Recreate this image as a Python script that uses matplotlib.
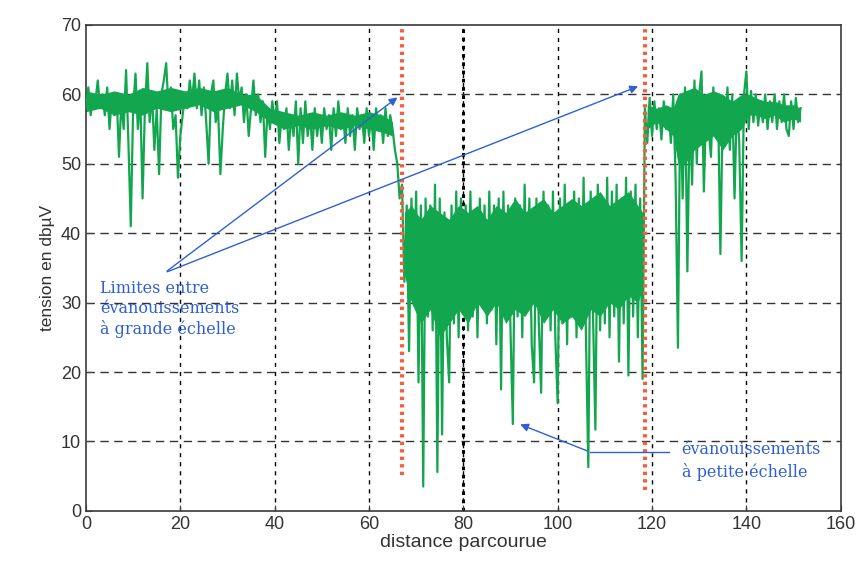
import numpy as np
import matplotlib
matplotlib.use('Agg')
import matplotlib.pyplot as plt

# Signal relevé (tension en dbµV) tous les 0.5 de distance parcourue
tension = [
    58, 61, 57, 60, 59, 62, 58, 60, 57, 61,
    55, 60, 57, 60, 51, 59, 55, 63.5, 53, 41,
    58, 63, 55, 60, 45, 58, 64.5, 56, 60, 52,
    58, 48.5, 60, 62, 64.5, 58, 61, 55, 57, 48,
    54, 57, 60, 58, 62, 59, 63, 58, 62, 57,
    61, 56, 50, 60, 62, 56, 58, 48.5, 55, 60,
    63, 58, 62, 57, 63, 59, 61, 56, 60, 54,
    58, 62, 57, 60, 56, 59, 51, 58, 55, 59,
    56, 59, 53, 57, 55, 58, 52, 57, 54, 59,
    50, 58, 53, 59, 54, 57, 52, 58, 54, 57,
    53, 58, 55, 57, 52, 58, 54, 59, 55, 57,
    53, 58, 54, 57, 52, 58, 55, 57, 53, 58,
    54, 57, 52, 58, 55, 57, 53, 58, 54, 57,
    55, 52, 50, 45, 47, 33, 44, 23, 45, 30,
    46, 18.5, 44, 3.5, 45, 28, 44, 26, 47, 5.6,
    45, 11, 43, 25, 18.5, 44, 27, 46, 25, 45,
    29, 44, 26, 46, 28, 43, 25, 45, 30, 44,
    27, 46, 29, 44, 24, 45, 17.5, 46, 28, 44,
    26, 12.5, 45, 28, 44, 25, 47, 29, 45, 24,
    18.5, 45, 27, 17, 46, 28, 44, 26, 46, 25,
    15.5, 45, 27, 47, 24, 44, 28, 46, 25, 45,
    27, 48, 25, 6.3, 46, 28, 11.7, 47, 26, 45,
    27, 48, 25, 46, 28, 47, 21.5, 45, 27, 48,
    19.5, 46, 28, 47, 25, 45, 19, 58, 53, 59.5,
    54, 59, 55, 58, 53.5, 59, 55, 58, 53, 60,
    48, 23.5, 60, 45, 61, 34.5, 58, 47, 62, 50,
    60, 63.3, 46, 59, 55, 51, 61, 54, 59, 37,
    58, 54, 61, 52, 60, 45, 59, 53, 36, 60,
    63.3, 55, 60.5, 56, 60, 55.5, 59, 56, 60, 55,
    59, 56, 60, 55, 59, 56, 60, 55, 54, 59,
    55, 59.5, 56, 58,
]
distance = np.arange(len(tension)) * 0.5

# coeur dense du bruit (enveloppe basse / haute) par tronçon
coeur1_x = [0, 3, 6, 9, 12, 15, 18, 21, 24, 27, 30, 33, 36, 39, 42, 45, 48, 51, 54, 57, 60, 63, 65]
coeur1_bas = [57.5, 58, 57, 57.5, 57, 58, 57.5, 58, 58.5, 57.5, 58, 58.5, 57.5, 56, 55,
              55.5, 55, 55.5, 55, 55.5, 55, 54.5, 54]
coeur1_haut = [60.5, 60, 60.5, 60, 61, 60.5, 61, 60.5, 61, 60.5, 61, 60, 60, 58, 57.5,
               57, 57.5, 57, 57.5, 57, 57.5, 57, 56]

coeur2_x = [67.5, 69, 71, 73, 75, 77, 79, 81, 83, 85, 87, 89, 91, 93, 95, 97, 99, 101,
            103, 105, 107, 109, 111, 113, 115, 117, 118]
coeur2_bas = [34, 30, 27, 29, 25, 27, 29, 27, 30, 28, 30, 27, 29, 28, 30, 27, 29, 27,
              28, 26, 29, 28, 30, 29, 31, 30, 32]
coeur2_haut = [43, 44, 42, 44, 43, 42, 44, 43, 44, 42, 44, 43, 45, 43, 44, 45, 43, 44,
               45, 44, 45, 46, 44, 45, 46, 44, 43]

coeur3_x = [119, 121, 123, 124.5, 125.5, 127, 129, 131, 133, 135, 137, 139, 140.5, 142,
            144, 146, 148, 150, 151.5]
coeur3_bas = [55, 56, 55, 54, 50, 50, 52, 53, 54, 52, 54, 55, 57, 57, 56.5, 57, 56, 56.5, 56]
coeur3_haut = [58.5, 58, 58.5, 58, 60, 60.5, 61, 60, 60.5, 60, 59, 60, 60, 59.5, 59, 59,
               58.5, 58.5, 58]

# limites entre évanouissements à grande échelle
limites = [67, 118.5]
limites_bas = [5.2, 3]

vert = '#12a64e'
bleu = '#2f5fd6'

fig = plt.figure(figsize=(8.64, 5.67), dpi=100)
ax = fig.add_axes([0.0995, 0.099, 0.8735, 0.857])

# grille
for xv in range(20, 160, 20):
    ax.axvline(xv, color='k', lw=1.0, ls=(0, (3, 3.5)), zorder=1)
for yv in range(10, 70, 10):
    ax.axhline(yv, color='#333333', lw=1.0, ls=(0, (6, 4)), zorder=1)
ax.axvline(80, color='k', lw=2.2, ls=(0, (1.2, 1.5)), zorder=1)

for cx, cb, ch in [(coeur1_x, coeur1_bas, coeur1_haut),
                   (coeur2_x, coeur2_bas, coeur2_haut),
                   (coeur3_x, coeur3_bas, coeur3_haut)]:
    ax.fill_between(cx, cb, ch, color=vert, lw=0, zorder=2)
ax.plot(distance, tension, color=vert, lw=1.6, zorder=3)

for xl, yb in zip(limites, limites_bas):
    ax.plot([xl, xl], [yb, 69.6], color='#f2603f', lw=3, ls=(0, (0.8, 1.0)), zorder=4)

# annotations
txt_kw = dict(color=bleu, fontsize=11.5, family='DejaVu Serif', va='top', ha='left')
ax.text(3.0, 33.2, "Limites entre\névanouissements\nà grande échelle", linespacing=1.2, **txt_kw)
ax.text(126.3, 10.0, "évanouissements\nà petite échelle", linespacing=1.3, **txt_kw)

arr = dict(arrowstyle='-|>', color=bleu, lw=1.0, mutation_scale=12)
ax.annotate('', xy=(66.5, 59.8), xytext=(16.7, 34.3), arrowprops=arr, zorder=5)
ax.annotate('', xy=(117.6, 61.3), xytext=(16.7, 34.3), arrowprops=arr, zorder=5)
ax.plot([123.7, 106.8], [8.5, 8.5], color=bleu, lw=1.0, zorder=5)
ax.annotate('', xy=(91.5, 12.6), xytext=(106.8, 8.5), arrowprops=arr, zorder=5)

ax.set_xlim(0, 160)
ax.set_ylim(0, 70)
ax.set_xticks(range(0, 161, 20))
ax.set_yticks(range(0, 71, 10))
ax.tick_params(direction='in', length=4, labelsize=13, colors='#444444', labelcolor='#333333')
for lab in ax.get_xticklabels() + ax.get_yticklabels():
    lab.set_family('Liberation Sans')
for s in ax.spines.values():
    s.set_color('#3a3a3a')
    s.set_linewidth(1.2)

ax.set_xlabel("distance parcourue", fontsize=14, family='Liberation Sans', color='#333333', labelpad=1)
ax.set_ylabel("tension en dbµV", fontsize=12.5, family='Liberation Sans', color='#333333', labelpad=4)

fig.savefig('out.png', dpi=100)
